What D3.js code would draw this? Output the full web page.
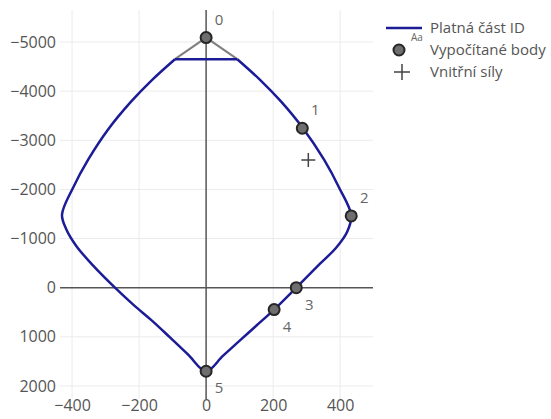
<!DOCTYPE html>
<html>
<head>
<meta charset="utf-8">
<script src="https://cdn.jsdelivr.net/npm/d3@7/dist/d3.min.js"></script>
<style>
  html, body { margin: 0; padding: 0; background: #fff; }
  svg { display: block; font-family: "Open Sans", sans-serif; }
</style>
</head>
<body>
<div id="chart"></div>
<script>
// Interaction diagram boundary (valid part), x = M, y = N
// plateau (straight cut-off)
const plateauX = [-93, 93];
const plateauN = [-4650, -4650];
// curved boundary, from right plateau end clockwise to left plateau end
const curveX = [93, 161, 224, 289, 352, 397, 433, 421, 388, 340, 269, 203, 152, 101, 50, 0,
                -54, -107, -160, -215, -272, -337, -388, -418, -430, -397, -352, -293, -224, -161, -93];
const curveN = [-4650, -4230, -3785, -3245, -2605, -2035, -1470, -1140, -814, -488, 0, 446, 760, 1073, 1387, 1700,
                1360, 1017, 680, 360, 0, -448, -855, -1200, -1486, -2035, -2605, -3215, -3785, -4230, -4650];
// cap lines towards point 0
const capX = [-93, 0, 93];
const capN = [-4650, -5090, -4650];
// computed points
const ptLabels = ["0", "1", "2", "3", "4", "5"];
const ptX = [0, 287, 433, 269, 203, 0];
const ptN = [-5090, -3245, -1460, 0, 446, 1700];
// internal forces
const forceX = [305];
const forceN = [-2600];
// ticks
const xTicks = [-400, -200, 0, 200, 400];
const yTicks = [-5000, -4000, -3000, -2000, -1000, 0, 1000, 2000];
const legendLabels = ["Platná část ID", "Vypočítané body", "Vnitřní síly"];

const W = 551, H = 419;
const plot = { left: 60, right: 373, top: 10, bottom: 399 };
const FS = "16px";

const svg = d3.select("#chart").append("svg").attr("width", W).attr("height", H);
svg.append("rect").attr("width", W).attr("height", H).attr("fill", "#fff");

const x = d3.scaleLinear().domain([-436, 498]).range([plot.left, plot.right]);
const y = d3.scaleLinear().domain([-5651, 2265]).range([plot.top, plot.bottom]);

const fmt = v => (v < 0 ? "\u2212" + Math.abs(v) : String(v));

// grid
const grid = svg.append("g");
grid.selectAll("line.gx").data(xTicks.filter(d => d !== 0)).join("line")
  .attr("x1", d => x(d)).attr("x2", d => x(d))
  .attr("y1", plot.top).attr("y2", plot.bottom)
  .attr("stroke", "#ebebeb").attr("stroke-width", 1);
grid.selectAll("line.gy").data(yTicks.filter(d => d !== 0)).join("line")
  .attr("y1", d => y(d)).attr("y2", d => y(d))
  .attr("x1", plot.left).attr("x2", plot.right)
  .attr("stroke", "#ebebeb").attr("stroke-width", 1);

// zero lines
svg.append("line").attr("x1", x(0)).attr("x2", x(0)).attr("y1", plot.top).attr("y2", plot.bottom)
  .attr("stroke", "#555").attr("stroke-width", 1.5);
svg.append("line").attr("y1", y(0)).attr("y2", y(0)).attr("x1", plot.left).attr("x2", plot.right)
  .attr("stroke", "#555").attr("stroke-width", 1.5);

// axes labels
const yAxis = d3.axisLeft(y).tickValues(yTicks).tickFormat(fmt).tickSize(0).tickPadding(3);
const gy = svg.append("g").attr("transform", `translate(${plot.left - 1},0)`).call(yAxis);
gy.select(".domain").remove();
gy.selectAll("text").attr("fill", "#555").style("font-size", FS).style("font-family", "'Open Sans', sans-serif");

const xAxis = d3.axisBottom(x).tickValues(xTicks).tickFormat(fmt).tickSize(0).tickPadding(1);
const gx = svg.append("g").attr("transform", `translate(0,${plot.bottom})`).call(xAxis);
gx.select(".domain").remove();
gx.selectAll("text").attr("fill", "#555").style("font-size", FS).style("font-family", "'Open Sans', sans-serif");

// cap lines
const line = d3.line().x(d => x(d[0])).y(d => y(d[1]));
const smooth = d3.line().x(d => x(d[0])).y(d => y(d[1])).curve(d3.curveCatmullRom.alpha(0.5));
svg.append("path").datum(capX.map((v, i) => [v, capN[i]]))
  .attr("d", line).attr("fill", "none").attr("stroke", "#808080").attr("stroke-width", 2);

// boundary
svg.append("path").datum(plateauX.map((v, i) => [v, plateauN[i]]))
  .attr("d", line).attr("fill", "none").attr("stroke", "#1c1c96").attr("stroke-width", 2.5);
svg.append("path").datum(curveX.map((v, i) => [v, curveN[i]]))
  .attr("d", smooth).attr("fill", "none").attr("stroke", "#1c1c96").attr("stroke-width", 2.5)
  .attr("stroke-linejoin", "round");

// force cross
svg.selectAll("path.force").data(forceX.map((v, i) => [v, forceN[i]])).join("path")
  .attr("d", d => `M${x(d[0]) - 7},${y(d[1])}H${x(d[0]) + 7}M${x(d[0])},${y(d[1]) - 7}V${y(d[1]) + 7}`)
  .attr("stroke", "#444").attr("stroke-width", 1.5).attr("fill", "none");

// points
const pts = ptX.map((v, i) => ({ x: v, n: ptN[i], label: ptLabels[i], i }));
svg.selectAll("circle.pt").data(pts).join("circle")
  .attr("cx", d => x(d.x)).attr("cy", d => y(d.n)).attr("r", 5.5)
  .attr("fill", "#6e6e6e").attr("stroke", "#262626").attr("stroke-width", 2);
svg.selectAll("text.pl").data(pts).join("text")
  .attr("x", d => x(d.x) + 13)
  .attr("y", d => y(d.n) + (d.i < 3 ? -13 : 22))
  .attr("fill", "#666").style("font-size", "15px").attr("text-anchor", "middle")
  .text(d => d.label);

// legend
const lg = svg.append("g");
lg.append("line").attr("x1", 386).attr("x2", 422).attr("y1", 28).attr("y2", 28)
  .attr("stroke", "#1c1c96").attr("stroke-width", 2.5);
lg.append("text").attr("x", 411).attr("y", 41).attr("fill", "#666").style("font-size", "10px").text("Aa");
lg.append("circle").attr("cx", 399).attr("cy", 50).attr("r", 5.5)
  .attr("fill", "#6e6e6e").attr("stroke", "#262626").attr("stroke-width", 2);
lg.append("path").attr("d", "M394,72H410M402,64V80").attr("stroke", "#444").attr("stroke-width", 1.5);
lg.selectAll("text.lt").data(legendLabels).join("text")
  .attr("x", 430).attr("y", (d, i) => 28 + i * 22).attr("dy", "0.35em")
  .attr("fill", "#555").style("font-size", "15px").text(d => d);
</script>
</body>
</html>
